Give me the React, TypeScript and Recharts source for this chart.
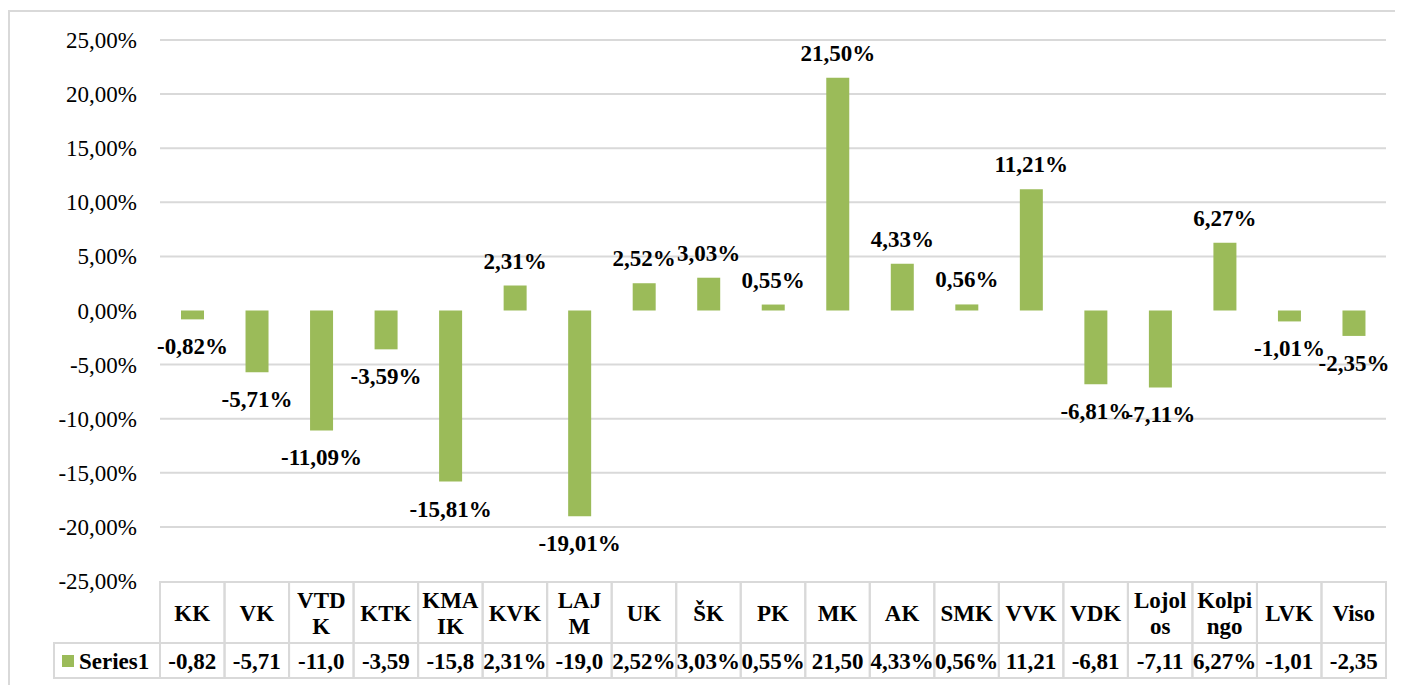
import { Bar, BarChart, CartesianGrid, LabelList, XAxis, YAxis } from "recharts";

const categories = [
  "KK", "VK", "VTDK", "KTK", "KMAIK", "KVK", "LAJM", "UK", "ŠK", "PK",
  "MK", "AK", "SMK", "VVK", "VDK", "Lojolos", "Kolpingo", "LVK", "Viso",
];
const series1 = [
  -0.82, -5.71, -11.09, -3.59, -15.81, 2.31, -19.01, 2.52, 3.03, 0.55,
  21.5, 4.33, 0.56, 11.21, -6.81, -7.11, 6.27, -1.01, -2.35,
];
const seriesName = "Series1";
const yTicks = [25, 20, 15, 10, 5, 0, -5, -10, -15, -20, -25];
const gridValues = [25, 20, 15, 10, 5, -5, -10, -15, -20];

const data = categories.map((name, i) => ({ name, value: series1[i] }));

const W = 1403;
const H = 685;
const PLOT_LEFT = 160;
const PLOT_RIGHT = 1386;
const PLOT_TOP = 40;
const PLOT_BOTTOM = 581;
const TABLE_BOTTOM = 678;
const HEADER_BOTTOM = 643;
const BAND = (PLOT_RIGHT - PLOT_LEFT) / categories.length;
const GREEN = "#9bbb59";
const LINE = "#d9d9d9";
const FONT = "Liberation Serif";
const FS = 23;

const fmt = (v: number) => v.toFixed(2).replace(".", ",") + "%";

// approximate bold Times widths (em) for wrapping the header text
const WIDE: Record<string, number> = {
  K: 0.778, V: 0.722, T: 0.667, D: 0.722, M: 0.944, A: 0.722, I: 0.389, L: 0.667,
  J: 0.5, U: 0.722, Š: 0.556, S: 0.556, P: 0.611, o: 0.5, j: 0.333, l: 0.278,
  s: 0.389, p: 0.556, i: 0.278, n: 0.556, g: 0.5,
};
const measure = (s: string) =>
  [...s].reduce((a, ch) => a + (WIDE[ch] ?? 0.5), 0) * FS;

// Excel-like wrapping of header text inside a narrow cell
function wrap(s: string, max: number) {
  const lines: string[] = [];
  let cur = "";
  for (const ch of s) {
    if (cur && measure(cur + ch) > max) {
      lines.push(cur);
      cur = ch;
    } else cur += ch;
  }
  if (cur) lines.push(cur);
  return lines;
}

// the data table cuts long values to five characters
const cell = (v: number) => fmt(v).slice(0, 5);

function YTick(props: any) {
  const { x, y, payload } = props;
  return (
    <text x={x} y={y + 8} textAnchor="end" fontFamily={FONT} fontSize={FS} fill="#000">
      {fmt(payload.value)}
    </text>
  );
}

function BoldText({ children, y, ...rest }: any) {
  return (
    <text y={y + 8} fontFamily={FONT} fontWeight="bold" fontSize={FS} fill="#000" {...rest}>
      {children}
    </text>
  );
}

function TableTick(props: any) {
  const { x, payload, index } = props;
  const left = x - BAND / 2;
  const top = PLOT_BOTTOM + 1;
  const lines = wrap(String(payload.value), 59);
  const mid = (top + HEADER_BOTTOM) / 2;
  return (
    <g>
      <rect x={left} y={top} width={BAND} height={HEADER_BOTTOM - top} fill="none" stroke={LINE} strokeWidth={2} />
      <rect x={left} y={HEADER_BOTTOM} width={BAND} height={TABLE_BOTTOM - HEADER_BOTTOM} fill="none" stroke={LINE} strokeWidth={2} />
      {lines.map((l, k) => (
        <BoldText key={k} x={x} y={mid + (k - (lines.length - 1) / 2) * 26} textAnchor="middle">
          {l}
        </BoldText>
      ))}
      <BoldText x={x} y={(HEADER_BOTTOM + TABLE_BOTTOM) / 2} textAnchor="middle">
        {cell(series1[index])}
      </BoldText>
      {index === 0 && (
        <g>
          <rect x={54} y={HEADER_BOTTOM} width={left - 54} height={TABLE_BOTTOM - HEADER_BOTTOM} fill="none" stroke={LINE} strokeWidth={2} />
          <rect x={62} y={655} width={12} height={12} fill={GREEN} />
          <BoldText x={79} y={(HEADER_BOTTOM + TABLE_BOTTOM) / 2}>
            {seriesName}
          </BoldText>
        </g>
      )}
    </g>
  );
}

function ValueLabel(props: any) {
  const { x, y, width, height, value } = props;
  const y1 = Math.min(y, y + height);
  const y2 = Math.max(y, y + height);
  const cy = value >= 0 ? y1 - 25 : y2 + 27;
  return (
    <BoldText x={x + width / 2} y={cy} textAnchor="middle">
      {fmt(value)}
    </BoldText>
  );
}

export default function App() {
  return (
    <div style={{ position: "relative", margin: "-8px 0 0 -8px", width: W, height: H }}>
      <BarChart
        width={W}
        height={H}
        data={data}
        barSize={23}
        margin={{ top: PLOT_TOP, right: W - PLOT_RIGHT, left: 0, bottom: H - TABLE_BOTTOM }}
      >
        <CartesianGrid vertical={false} stroke={LINE} strokeWidth={2} horizontalValues={gridValues} />
        <XAxis
          dataKey="name"
          interval={0}
          tickLine={false}
          axisLine={false}
          tickSize={0}
          tickMargin={0}
          height={TABLE_BOTTOM - PLOT_BOTTOM}
          tick={<TableTick />}
        />
        <YAxis
          width={PLOT_LEFT}
          domain={[-25, 25]}
          ticks={yTicks}
          tickLine={false}
          axisLine={false}
          tickSize={0}
          tickMargin={23}
          tick={<YTick />}
        />
        <Bar dataKey="value" fill={GREEN} isAnimationActive={false}>
          <LabelList dataKey="value" content={<ValueLabel />} />
        </Bar>
      </BarChart>
      <div
        style={{
          position: "absolute",
          left: 8,
          top: 10,
          right: -10,
          bottom: -10,
          border: `2px solid ${LINE}`,
          pointerEvents: "none",
        }}
      />
    </div>
  );
}
